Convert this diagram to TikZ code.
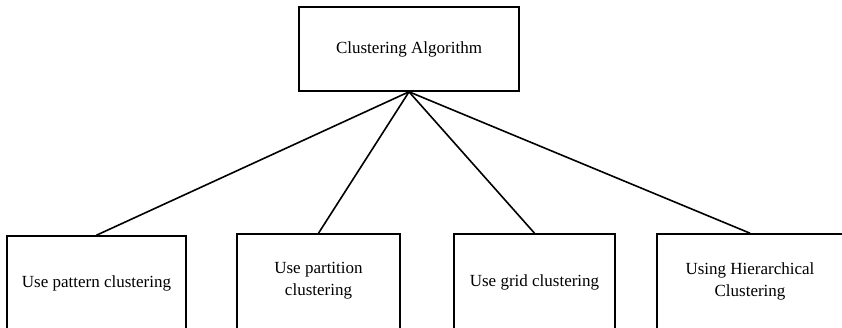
\documentclass[tikz,border=0pt]{standalone}
\usepackage{fontspec}
\setmainfont{Liberation Serif}
\begin{document}
\begin{tikzpicture}[x=1pt,y=-1pt,
  box/.style={draw,line width=1.6pt,inner sep=0pt,align=center,font=\fontsize{17}{22}\selectfont},
  link/.style={line width=1.6pt}]
\useasboundingbox (0,0) rectangle (842,327);
\clip (0,0) rectangle (842,327);
\node[box,minimum width=220pt,minimum height=84pt] (root) at (409,49) {Clustering Algorithm};
\node[box,minimum width=179pt,minimum height=140pt] (a) at (96.5,306) {};
\node[box,minimum width=163pt,minimum height=144pt] (b) at (318.5,306) {};
\node[box,minimum width=161pt,minimum height=144pt] (c) at (534.5,306) {};
\node[box,minimum width=186pt,minimum height=144pt] (d) at (750,306) {};
\node[font=\fontsize{17}{22}\selectfont,align=center] (ta) at (96.5,283) {Use pattern clustering};
\node[font=\fontsize{17}{22}\selectfont,align=center] (tb) at (318.5,281) {Use partition\\clustering};
\node[font=\fontsize{17}{22}\selectfont,align=center] (tc) at (534.5,282) {Use grid clustering};
\node[font=\fontsize{17}{22}\selectfont,align=center] (td) at (750,281) {Using Hierarchical\\Clustering};
\draw[link] (root.south) -- (a.north);
\draw[link] (root.south) -- (b.north);
\draw[link] (root.south) -- (c.north);
\draw[link] (root.south) -- (d.north);
\end{tikzpicture}
\end{document}
